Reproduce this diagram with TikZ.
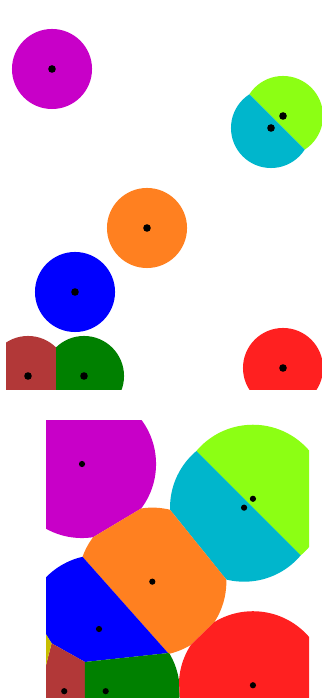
\documentclass[tikz,border=0pt]{standalone}
\usetikzlibrary{calc}
\definecolor{cellmagenta}{RGB}{200,0,200}
\definecolor{celllime}{RGB}{140,255,20}
\definecolor{cellcyan}{RGB}{0,182,204}
\definecolor{cellorange}{RGB}{255,128,32}
\definecolor{cellblue}{RGB}{0,0,255}
\definecolor{cellbrown}{RGB}{178,56,56}
\definecolor{cellgreen}{RGB}{0,128,0}
\definecolor{cellred}{RGB}{255,32,32}
\definecolor{cellyellow}{RGB}{200,190,0}

\begin{document}
\begin{tikzpicture}[x=0.01cm, y=-0.01cm, site/.style={fill=black}]
  \useasboundingbox (0,0) rectangle (322,698);
  \fill[white] (0,0) rectangle (322,698);

  % sites: top panel as given, bottom panel scaled copy
  \foreach \i/\x/\y in {1/52/69, 2/283/116, 3/271/128, 4/147/228, 5/75/292,
                        6/28/376, 7/84/376, 8/283/368, 9/-35/360}{
    \coordinate (t\i) at (\x,\y);
    \coordinate (b\i) at ({0.74*\x+43.52},{0.74*\y+412.94});
  }
  \coordinate (t-nw) at (6,0);
  \coordinate (t-se) at (322,390);
  \coordinate (b-nw) at (46,421);
  \coordinate (b-se) at (309,698);

  \foreach \p/\r/\d in {t/0.4cm/0.038cm, b/0.74cm/0.031cm}{
    \begin{scope}
      \clip (\p-nw) rectangle (\p-se);
      \foreach \i/\col in {1/cellmagenta, 2/celllime, 3/cellcyan, 4/cellorange, 5/cellblue,
                           6/cellbrown, 7/cellgreen, 8/cellred, 9/cellyellow}{
        \begin{scope}
          \foreach \j in {1,...,9}{
            \ifnum\i=\j\relax\else
              \coordinate (mid) at ($(\p\i)!0.5!(\p\j)$);
              \coordinate (ha) at ($(mid)!10cm!90:(\p\j)$);
              \coordinate (hb) at ($(mid)!10cm!-90:(\p\j)$);
              \clip (ha) -- (hb) -- ($(hb)!10cm!90:(ha)$) -- ($(ha)!10cm!-90:(hb)$) -- cycle;
            \fi
          }
          \fill[\col] (\p\i) circle[radius=\r];
        \end{scope}
      }
      \foreach \i in {1,...,9}
        \fill[site] (\p\i) circle[radius=\d];
    \end{scope}
  }
\end{tikzpicture}
\end{document}
